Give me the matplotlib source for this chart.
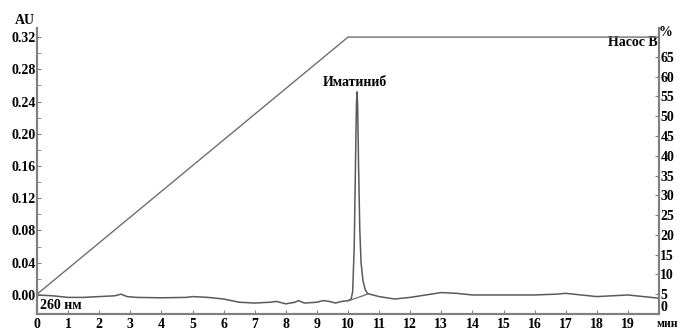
import numpy as np
import matplotlib.pyplot as plt

plt.rcParams['font.family'] = ['Liberation Serif', 'DejaVu Serif']
plt.rcParams['font.weight'] = 'bold'

# chromatogram trace, 260 nm
time = [0, 0.5, 1, 1.5, 2, 2.5, 2.7, 2.9, 3.2, 4, 4.8, 5, 5.5, 6, 6.5, 7,
        7.5, 7.7, 8, 8.3, 8.4, 8.6, 9, 9.2, 9.4, 9.6, 9.8, 10.0, 10.1,
        10.15, 10.2, 10.24, 10.27, 10.29, 10.31, 10.34, 10.38, 10.42,
        10.48, 10.55, 10.62, 10.7, 11.0, 11.5, 12, 12.5, 13, 13.5, 14,
        15, 16, 16.7, 17, 17.5, 18, 18.5, 19, 19.5, 20]
au = [0.000, -0.001, -0.003, -0.003, -0.002, -0.001, 0.001, -0.002,
      -0.003, -0.0035, -0.003, -0.002, -0.003, -0.005, -0.009, -0.010,
      -0.009, -0.008, -0.011, -0.009, -0.007, -0.010, -0.009, -0.007,
      -0.008, -0.010, -0.008, -0.007, -0.005,
      0.004, 0.06, 0.16, 0.235, 0.252, 0.235, 0.16, 0.08, 0.04,
      0.018, 0.007, 0.002, 0.001, -0.002, -0.005, -0.003, 0.000, 0.003,
      0.002, 0.000, 0.000, 0.000, 0.001, 0.002, 0.000, -0.002, -0.001,
      0.000, -0.002, -0.004]

# integration baseline under the peak
base_t = [10.0, 10.64]
base_au = [-0.0074, 0.0012]

# pump B gradient, %
pump_t = [0, 10, 20]
pump_b = [5, 70, 70]

fig = plt.figure(figsize=(6.81, 3.31), dpi=100)
ax = fig.add_axes([37 / 681, 1 - 314 / 331, 622 / 681, 286 / 331])
ax2 = ax.twinx()

ax.plot(time, au, color='#5a5a5a', lw=1.1)
ax.plot(base_t, base_au, color='#6a6a6a', lw=0.9)
ax2.plot(pump_t, pump_b, color='#6e6e6e', lw=1.0)

ax.set_xlim(0, 20)
ax.set_ylim(-0.0236, 0.3312)
ax2.set_ylim(0, 72.3)

ax.set_xticks(range(20))
ax.set_yticks(np.arange(0, 0.33, 0.04))
ax.set_yticks(np.arange(0.02, 0.33, 0.04), minor=True)
ax.set_yticklabels(['%.2f' % v for v in np.arange(0, 0.33, 0.04)])
ax2.set_yticks(range(0, 70, 5))

for a in (ax, ax2):
    a.spines['top'].set_visible(False)
    for s in ('left', 'right', 'bottom'):
        a.spines[s].set_color('#808080')
        a.spines[s].set_linewidth(1.5)
ax.tick_params(axis='both', which='both', direction='in', length=3,
               color='#808080', labelsize=10, pad=1)
ax.tick_params(axis='x', pad=3)
ax2.tick_params(axis='y', direction='in', length=3, color='#808080',
                labelsize=10, pad=1)
# the 0 % label sits just above the time axis
ax2.get_yticklabels()[0].set_va('bottom')

ax.text(10.21, 0.263, 'Иматиниб', ha='center', va='center', fontsize=10)
ax.text(19.94, 0.3126, 'Насос B', ha='right', va='center', fontsize=10)
ax.text(0.1, -0.0135, '260 нм', ha='left', va='center', fontsize=10)
fig.text(25 / 681, 1 - 20 / 331, 'AU', ha='center', va='center', fontsize=10)
fig.text(665 / 681, 1 - 32 / 331, '%', ha='center', va='center', fontsize=10)
fig.text(667 / 681, 1 - 324 / 331, 'мин', ha='center', va='center',
         fontsize=8.5)

fig.savefig('out.png', dpi=100)
